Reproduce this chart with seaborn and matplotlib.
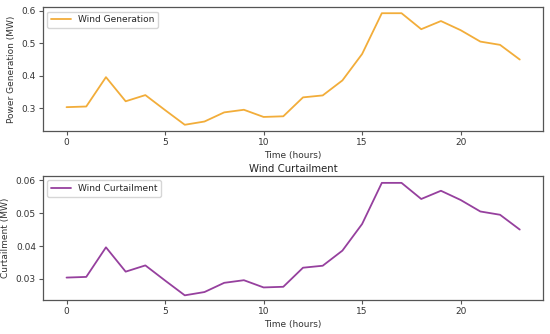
import matplotlib
matplotlib.use("Agg")
import matplotlib.pyplot as plt
import seaborn as sns
import pandas as pd

# Hourly values
hours = list(range(24))
wind_generation = [0.304, 0.306, 0.396, 0.322, 0.341, 0.295, 0.250, 0.260,
                   0.288, 0.296, 0.274, 0.276, 0.334, 0.340, 0.386, 0.467,
                   0.592, 0.592, 0.543, 0.568, 0.540, 0.505, 0.495, 0.450]
wind_curtailment = [0.0304, 0.0306, 0.0396, 0.0322, 0.0341, 0.0295, 0.0250, 0.0260,
                    0.0288, 0.0296, 0.0274, 0.0276, 0.0334, 0.0340, 0.0386, 0.0467,
                    0.0592, 0.0592, 0.0543, 0.0568, 0.0540, 0.0505, 0.0495, 0.0450]

df = pd.DataFrame({'hour': hours, 'gen': wind_generation, 'curt': wind_curtailment})

sns.set_style("white")
plt.rcParams['font.family'] = ['DejaVu Sans']
plt.rcParams['axes.edgecolor'] = '#555555'
plt.rcParams['xtick.color'] = '#555555'
plt.rcParams['ytick.color'] = '#555555'
plt.rcParams['xtick.labelcolor'] = '#333333'
plt.rcParams['ytick.labelcolor'] = '#333333'

fig, (ax1, ax2) = plt.subplots(2, 1, figsize=(5.5, 3.34), dpi=100)
fig.subplots_adjust(left=0.078, right=0.988, top=0.979, bottom=0.102, hspace=0.363)

fs = 6.5

# Top: generation
sns.lineplot(data=df, x='hour', y='gen', color='#f2ad3a', linewidth=1.3,
             label='Wind Generation', ax=ax1)
ax1.set_xlim(-1.2, 24.2)
ax1.set_ylim(0.231, 0.611)
ax1.set_xticks([0, 5, 10, 15, 20])
ax1.set_yticks([0.3, 0.4, 0.5, 0.6])
ax1.set_xlabel('Time (hours)', fontsize=fs, color='#333333', labelpad=3)
ax1.set_ylabel('Power Generation (MW)', fontsize=fs, color='#333333')
ax1.tick_params(labelsize=fs, length=3, width=0.8, bottom=True, left=True, pad=2)
ax1.legend(loc='upper left', fontsize=fs, frameon=True, edgecolor='#cccccc',
           fancybox=True, handlelength=2.2)

# Bottom: curtailment
sns.lineplot(data=df, x='hour', y='curt', color='#96409e', linewidth=1.3,
             label='Wind Curtailment', ax=ax2)
ax2.set_xlim(-1.2, 24.2)
ax2.set_ylim(0.0236, 0.0613)
ax2.set_xticks([0, 5, 10, 15, 20])
ax2.set_yticks([0.03, 0.04, 0.05, 0.06])
ax2.set_title('Wind Curtailment', fontsize=7.3, color='#222222', pad=3)
ax2.set_xlabel('Time (hours)', fontsize=fs, color='#333333', labelpad=3)
ax2.set_ylabel('Curtailment (MW)', fontsize=fs, color='#333333')
ax2.tick_params(labelsize=fs, length=3, width=0.8, bottom=True, left=True, pad=2)
ax2.legend(loc='upper left', fontsize=fs, frameon=True, edgecolor='#cccccc',
           fancybox=True, handlelength=2.2)

for ax in (ax1, ax2):
    for sp in ax.spines.values():
        sp.set_linewidth(0.9)

fig.savefig('out.png', dpi=100)
